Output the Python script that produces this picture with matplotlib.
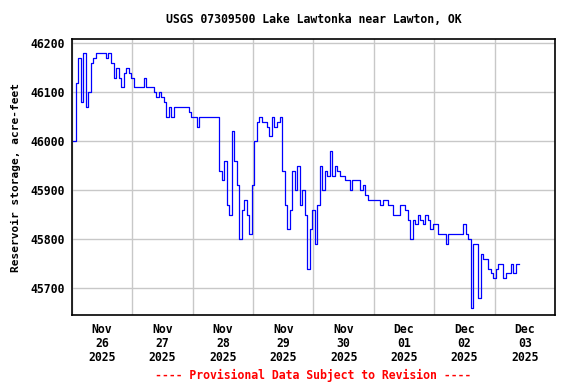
"""USGS style storage graph for Lake Lawtonka, last 7 days."""

import matplotlib
matplotlib.use('Agg')
import matplotlib.pyplot as plt
import matplotlib.dates as mdates
import numpy as np
import pandas as pd


# Data ------------------------------------------------------------------------

station = 'USGS 07309500 Lake Lawtonka near Lawton, OK'
ylabel = 'Reservoir storage, acre-feet'
footer = '---- Provisional Data Subject to Revision ----'

first_reading = '2025-11-26 00:30'   # hourly readings from here on
storage = [
    # Nov 26
    46000, 46120, 46170, 46080, 46180, 46070, 46100, 46160, 46170, 46180,
    46180, 46180, 46180, 46170, 46180, 46160, 46130, 46150, 46130, 46110,
    46140, 46150, 46140, 46130,
    # Nov 27
    46110, 46110, 46110, 46110, 46130, 46110, 46110, 46110, 46100, 46090,
    46100, 46090, 46080, 46050, 46070, 46050, 46070, 46070, 46070, 46070,
    46070, 46070, 46060, 46050,
    # Nov 28
    46050, 46030, 46050, 46050, 46050, 46050, 46050, 46050, 46050, 46050,
    45940, 45920, 45960, 45870, 45850, 46020, 45960, 45910, 45800, 45860,
    45880, 45850, 45810, 45910,
    # Nov 29
    46000, 46040, 46050, 46040, 46040, 46030, 46010, 46050, 46030, 46040,
    46050, 45940, 45870, 45820, 45860, 45940, 45900, 45950, 45870, 45900,
    45850, 45740, 45820, 45860,
    # Nov 30
    45790, 45870, 45950, 45900, 45940, 45930, 45980, 45930, 45950, 45940,
    45930, 45930, 45920, 45920, 45900, 45920, 45920, 45920, 45900, 45910,
    45890, 45880, 45880, 45880,
    # Dec 01
    45880, 45880, 45870, 45880, 45880, 45870, 45870, 45850, 45850, 45850,
    45870, 45870, 45860, 45840, 45800, 45840, 45830, 45850, 45840, 45830,
    45850, 45840, 45820, 45830,
    # Dec 02
    45830, 45810, 45810, 45810, 45790, 45810, 45810, 45810, 45810, 45810,
    45810, 45830, 45810, 45800, 45660, 45790, 45790, 45680, 45770, 45760,
    45760, 45740, 45730, 45720,
    # Dec 03
    45740, 45750, 45750, 45720, 45730, 45730, 45750, 45730, 45750, 45750,
]

yticks = [45700, 45800, 45900, 46000, 46100, 46200]
ylim = (45645, 46209)
xlim = ('2025-11-26', '2025-12-04')

# Figure ------------------------------------------------------------------------

font = {'family': 'DejaVu Sans Mono', 'weight': 'bold', 'size': 8.3}
plt.rcParams['font.family'] = 'DejaVu Sans Mono'
plt.rcParams['font.weight'] = 'bold'

fig = plt.figure(figsize=(5.76, 3.84), dpi=100)
ax = fig.add_axes([0.125, 0.1797, 0.8385, 0.7187])

times = pd.date_range(first_reading, periods=len(storage), freq='h')
ax.plot(times, storage, color='#0000ff', lw=0.9, drawstyle='steps-post')

ax.set_xlim(pd.Timestamp(xlim[0]), pd.Timestamp(xlim[1]))
ax.set_ylim(*ylim)

# gridlines at midnight, date labels centred on noon
ax.xaxis.set_major_locator(mdates.DayLocator())
ax.xaxis.set_major_formatter(plt.NullFormatter())
ax.xaxis.set_minor_locator(mdates.HourLocator(byhour=12))
ax.xaxis.set_minor_formatter(mdates.DateFormatter('%b\n%d\n%Y'))
ax.tick_params(axis='x', which='both', length=0)
ax.tick_params(axis='x', which='minor', pad=6)
for lab in ax.xaxis.get_minorticklabels():
    lab.set_fontproperties(font)
    lab.set_linespacing(1.1)

ax.set_yticks(yticks)
ax.set_yticklabels([str(v) for v in yticks], fontdict=font)
ax.tick_params(axis='y', length=0, pad=5)

ax.grid(True, which='major', color='#c8c8c8', lw=1.0)
ax.set_axisbelow(True)
for spine in ax.spines.values():
    spine.set_linewidth(1.2)

ax.set_ylabel(ylabel, fontdict=dict(font, size=8.0), labelpad=7)

# title and footer are centred over the plot area, not the figure
xmid = 0.125 + 0.8385 / 2
fig.text(xmid, 0.948, station, ha='center', va='center', fontdict=font)
fig.text(xmid, 0.023, footer, ha='center', va='center', color='#ff0000',
         fontdict=font)

fig.savefig('out.png', dpi=100)
